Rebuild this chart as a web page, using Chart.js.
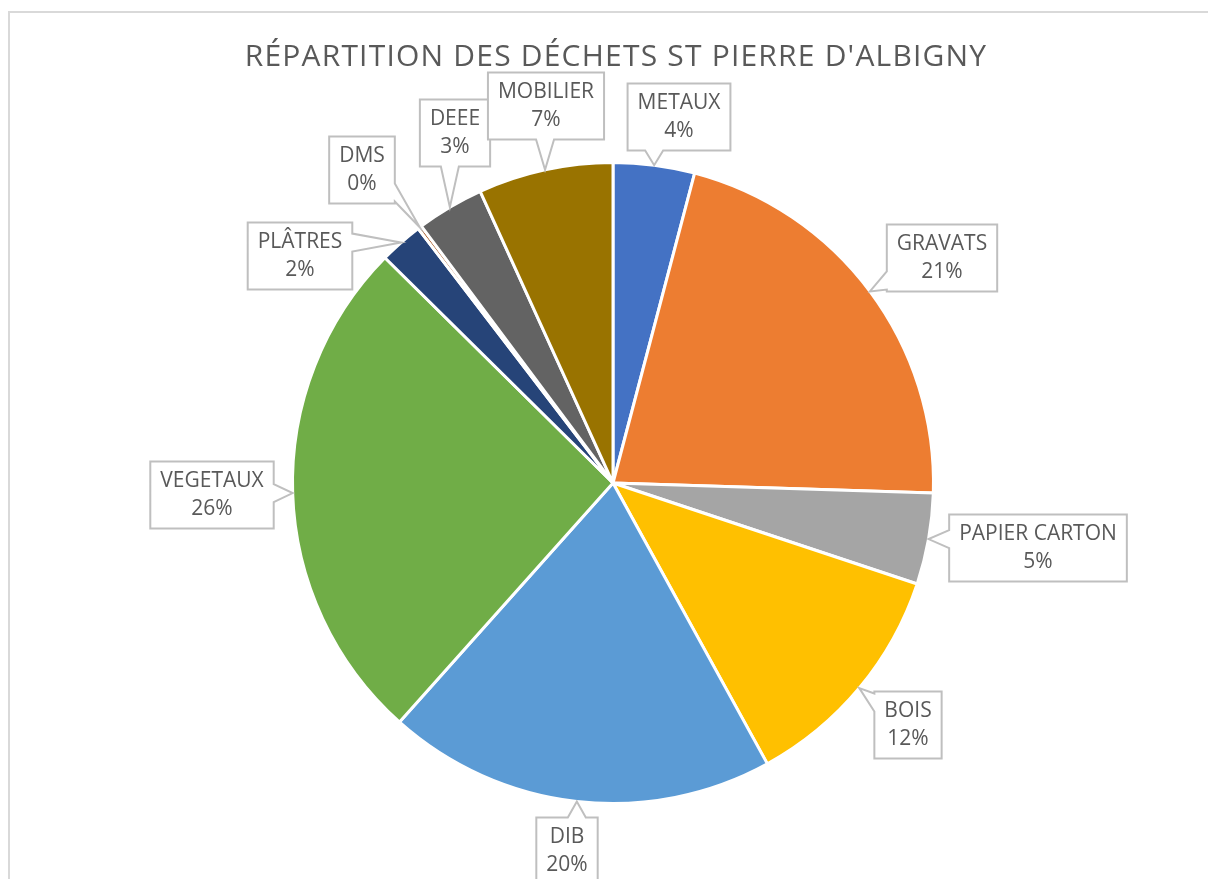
<!DOCTYPE html>
<html>
<head>
<meta charset="utf-8">
<script src="https://cdn.jsdelivr.net/npm/chart.js@4"></script>
<style>
  body { margin: 0; background: #fff; }
  canvas { display: block; }
</style>
</head>
<body>
<canvas id="pieChart" width="1208" height="879"></canvas>
<script>
const TITLE = "RÉPARTITION DES DÉCHETS ST PIERRE D'ALBIGNY";
const categories = ['METAUX', 'GRAVATS', 'PAPIER CARTON', 'BOIS', 'DIB', 'VEGETAUX', 'PLÂTRES', 'DMS', 'DEEE', 'MOBILIER'];
const values = [4.1, 21.4, 4.6, 11.9, 19.6, 25.8, 2.2, 0.2, 3.4, 6.8];
const colors = ['#4472C4', '#ED7D31', '#A5A5A5', '#FFC000', '#5B9BD5', '#70AD47', '#264478', '#9E480E', '#636363', '#997300'];

// centres des étiquettes (callouts), même ordre que categories
const calloutCenters = [
    [679, 117], [942, 258], [1038, 548], [908, 725], [567, 851],
    [212, 495], [300, 256], [362, 170], [455, 133], [546, 106]
];

const TEXT_COLOR = '#595959';
const LABEL_FONT = '21px "Open Sans"';

const framePlugin = {
    id: 'frame',
    beforeDraw(chart) {
        const ctx = chart.ctx;
        ctx.save();
        ctx.fillStyle = '#fff';
        ctx.fillRect(0, 0, chart.width, chart.height);
        ctx.strokeStyle = '#d9d9d9';
        ctx.lineWidth = 2;
        ctx.strokeRect(9, 12, chart.width + 20, chart.height + 20);
        ctx.fillStyle = TEXT_COLOR;
        ctx.font = '30px "Open Sans"';
        ctx.letterSpacing = '1.2px';
        ctx.textAlign = 'center';
        ctx.textBaseline = 'alphabetic';
        ctx.fillText(TITLE, 616, 66);
        ctx.restore();
    }
};

function calloutPath(ctx, l, t, r, b, tip) {
    const hw = 9, m = 2;
    const outX = tip.x < l ? l - tip.x : (tip.x > r ? tip.x - r : 0);
    const outY = tip.y < t ? t - tip.y : (tip.y > b ? tip.y - b : 0);
    const clamp = (v, lo, hi) => Math.max(lo, Math.min(hi, v));
    ctx.beginPath();
    ctx.moveTo(l, t);
    if (outY >= outX && tip.y < t) {
        const c = clamp(tip.x, l + hw + m, r - hw - m);
        ctx.lineTo(c - hw, t); ctx.lineTo(tip.x, tip.y); ctx.lineTo(c + hw, t);
    }
    ctx.lineTo(r, t);
    if (outX > outY && tip.x > r) {
        const c = clamp(tip.y, t + hw + m, b - hw - m);
        ctx.lineTo(r, c - hw); ctx.lineTo(tip.x, tip.y); ctx.lineTo(r, c + hw);
    }
    ctx.lineTo(r, b);
    if (outY >= outX && tip.y > b) {
        const c = clamp(tip.x, l + hw + m, r - hw - m);
        ctx.lineTo(c + hw, b); ctx.lineTo(tip.x, tip.y); ctx.lineTo(c - hw, b);
    }
    ctx.lineTo(l, b);
    if (outX > outY && tip.x < l) {
        const c = clamp(tip.y, t + hw + m, b - hw - m);
        ctx.lineTo(l, c + hw); ctx.lineTo(tip.x, tip.y); ctx.lineTo(l, c - hw);
    }
    ctx.closePath();
}

const calloutPlugin = {
    id: 'callouts',
    afterDatasetsDraw(chart) {
        const ctx = chart.ctx;
        const meta = chart.getDatasetMeta(0);
        const total = values.reduce((a, b) => a + b, 0);
        ctx.save();
        ctx.font = LABEL_FONT;
        meta.data.forEach((arc, i) => {
            const mid = (arc.startAngle + arc.endAngle) / 2;
            const tip = {
                x: arc.x + Math.cos(mid) * arc.outerRadius,
                y: arc.y + Math.sin(mid) * arc.outerRadius
            };
            const line1 = categories[i];
            const line2 = Math.round(values[i] / total * 100) + '%';
            const w = Math.max(ctx.measureText(line1).width, ctx.measureText(line2).width) + 20;
            const h = 67;
            const [cx, cy] = calloutCenters[i];
            const l = cx - w / 2, r = cx + w / 2, t = cy - h / 2, b = cy + h / 2;
            calloutPath(ctx, l, t, r, b, tip);
            ctx.fillStyle = '#fff';
            ctx.fill();
            ctx.strokeStyle = '#bfbfbf';
            ctx.lineWidth = 2;
            ctx.stroke();
            ctx.fillStyle = TEXT_COLOR;
            ctx.textAlign = 'center';
            ctx.textBaseline = 'middle';
            ctx.fillText(line1, cx, cy - 14);
            ctx.fillText(line2, cx, cy + 14);
        });
        ctx.restore();
    }
};

new Chart(document.getElementById('pieChart').getContext('2d'), {
    type: 'pie',
    data: {
        labels: categories,
        datasets: [{
            data: values,
            backgroundColor: colors,
            borderColor: '#fff',
            borderWidth: 3
        }]
    },
    options: {
        responsive: false,
        animation: false,
        layout: { padding: { top: 161, bottom: 74, left: 291, right: 273 } },
        plugins: {
            legend: { display: false },
            tooltip: { enabled: false },
            title: { display: false }
        }
    },
    plugins: [framePlugin, calloutPlugin]
});
</script>
</body>
</html>
